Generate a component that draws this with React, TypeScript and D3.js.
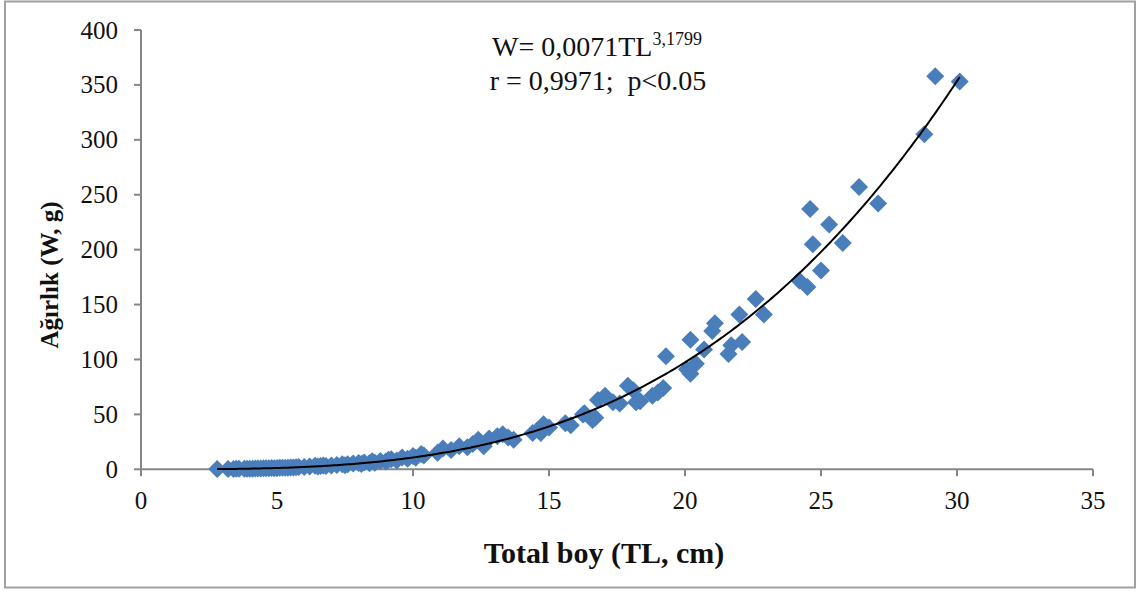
import React from 'react';
import * as d3 from 'd3';

// Total boy (TL, cm) – Ağırlık (W, g) points
const tl = [
  2.8, 3.2, 3.4, 3.5, 3.6, 3.8, 3.9, 4.0, 4.1, 4.2, 4.3, 4.4, 4.5, 4.6, 4.7, 4.8, 4.9,
  5.0, 5.1, 5.2, 5.3, 5.4, 5.5, 5.6, 5.7, 5.8, 6.0, 6.2, 6.4, 6.5, 6.6, 6.7, 6.8,
  7.0, 7.2, 7.4, 7.5, 7.6, 7.8, 8.0, 8.1, 8.2, 8.4, 8.5, 8.6, 8.8, 9.0, 9.1, 9.2,
  9.4, 9.6, 9.8, 10.0, 10.1, 10.3, 10.4, 10.9, 11.1, 11.4, 11.7, 12.0, 12.2, 12.4,
  12.6, 12.8, 13.1, 13.3, 13.5, 13.7, 14.4, 14.6, 14.8, 14.7, 15.0, 15.6, 15.8,
  16.25, 16.6, 16.3, 16.7, 16.8, 17.06, 17.35, 17.6, 17.9, 18.1, 18.2, 18.35, 18.8,
  19.0, 19.2, 19.3, 20.07, 20.2, 20.4, 20.2, 20.7, 21.6, 22.1, 21.0, 21.1, 21.7,
  22.0, 22.6, 22.9, 24.2, 24.5, 24.6, 24.7, 25.0, 25.3, 25.8, 26.4, 27.1, 28.8,
  29.2, 30.1,
];
const w = [
  0.2, 0.3, 0.3, 0.4, 0.4, 0.5, 0.5, 0.6, 0.6, 0.7, 0.8, 0.7, 0.9, 0.9, 1.0, 1.1, 1.0,
  1.2, 1.3, 1.4, 1.3, 1.5, 1.6, 1.7, 1.8, 2.0, 2.1, 2.6, 3.2, 2.6, 3.0, 3.5, 2.9,
  3.4, 4.0, 4.6, 3.8, 4.5, 5.2, 5.8, 4.8, 6.2, 5.6, 7.4, 6.0, 7.6, 7.0, 8.6, 9.2,
  8.0, 10.8, 9.6, 12.0, 10.5, 14.0, 12.5, 15, 19, 17.6, 21, 20, 23, 27,
  21, 28, 30, 32, 29, 27, 33, 36, 41, 33, 38, 42, 40,
  50, 45, 51, 47, 63, 67, 61, 60, 76, 72, 61, 62, 67,
  70, 74, 103, 91, 87, 96, 118, 109, 105, 116, 126, 133, 113,
  141, 155, 141, 172, 166, 237, 205, 181, 223, 206, 257, 242, 305,
  358, 353,
];

const xTicks = [0, 5, 10, 15, 20, 25, 30, 35];
const yTicks = [0, 50, 100, 150, 200, 250, 300, 350, 400];

// fitted power curve W = a * TL^b
const coefA = 0.0071;
const coefB = 3.1799;
const fitRange = [2.8, 30.1];

const W = 1144;
const H = 592;
const plot = { left: 141, right: 1093, top: 30, bottom: 469.3 };
const serif = '"Liberation Serif", "Times New Roman", serif';
const axisColor = '#868686';

export default function App() {
  const x = d3.scaleLinear().domain([0, 35]).range([plot.left, plot.right]);
  const y = d3.scaleLinear().domain([0, 400]).range([plot.bottom, plot.top]);

  const points = tl.map((t, i) => ({ t, v: w[i] }));
  const fit = d3.range(fitRange[0], fitRange[1] + 0.001, 0.1).map((t) => [t, coefA * Math.pow(t, coefB)]);
  const fitLine = d3.line<number[]>().x((d) => x(d[0])).y((d) => y(d[1]))(fit) || '';
  const diamond = d3.symbol(d3.symbolSquare, 162)() || '';

  return (
    <svg width={W} height={H} style={{ position: 'absolute', left: 0, top: 0 }} fontFamily={serif}>
      <rect x={0} y={0} width={W} height={H} fill="#fff" />
      <rect x={5} y={1.5} width={1130} height={586} fill="none" stroke="#a0a0a0" strokeWidth={2} />

      {/* axes */}
      <line x1={plot.left} x2={plot.left} y1={plot.top} y2={plot.bottom} stroke={axisColor} strokeWidth={2} />
      <line x1={plot.left} x2={plot.right} y1={plot.bottom} y2={plot.bottom} stroke={axisColor} strokeWidth={2} />
      {yTicks.map((t) => (
        <g key={'y' + t}>
          <line x1={plot.left - 7} x2={plot.left} y1={y(t)} y2={y(t)} stroke={axisColor} strokeWidth={2} />
          <text x={118} y={y(t)} dy="0.34em" textAnchor="end" fontSize={25} fill="#111">{t}</text>
        </g>
      ))}
      {xTicks.map((t) => (
        <g key={'x' + t}>
          <line x1={x(t)} x2={x(t)} y1={plot.bottom} y2={plot.bottom + 7} stroke={axisColor} strokeWidth={2} />
          <text x={x(t)} y={509} textAnchor="middle" fontSize={25} fill="#111">{t}</text>
        </g>
      ))}

      {/* points */}
      {points.map((p, i) => (
        <path key={i} d={diamond} transform={`translate(${x(p.t)},${y(p.v)}) rotate(45)`} fill="#4A7EBB" />
      ))}

      {/* trend line */}
      <path d={fitLine} fill="none" stroke="#000" strokeWidth={2} />

      {/* equation */}
      <text x={597} y={56} textAnchor="middle" fontSize={28} fill="#111">
        W= 0,0071TL<tspan fontSize={18} dy={-11}>3,1799</tspan>
      </text>
      <text x={598} y={90} textAnchor="middle" fontSize={28} fill="#111" style={{ whiteSpace: 'pre' }}>
        r = 0,9971;  p&lt;0.05
      </text>

      {/* axis titles */}
      <text x={604} y={563} textAnchor="middle" fontSize={30} fontWeight="bold" fill="#111">Total boy (TL, cm)</text>
      <text transform="translate(58,275) rotate(-90)" textAnchor="middle" fontSize={25} fontWeight="bold" fill="#111">Ağırlık (W, g)</text>
    </svg>
  );
}
